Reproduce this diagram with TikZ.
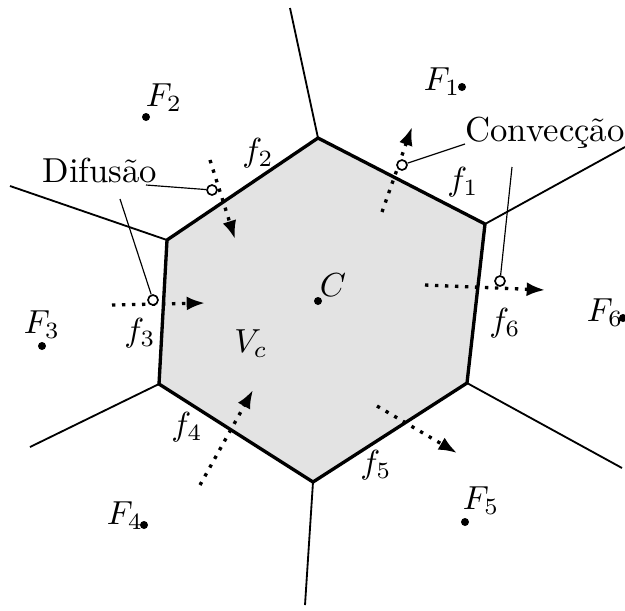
\documentclass[tikz,border=0pt]{standalone}
\usetikzlibrary{arrows.meta}
\begin{document}
\begin{tikzpicture}[x=0.3pt,y=-0.3pt,
  every node/.style={font=\fontsize{10.4}{12.5}\selectfont},
  face/.style={line width=1pt},
  ray/.style={line width=0.55pt},
  flux/.style={line width=1pt,dotted,-{Latex[length=5.5pt,width=4.2pt]}},
  leader/.style={line width=0.35pt},
  pt/.style={circle,fill=black,inner sep=0pt,minimum size=2.4pt},
  probe/.style={circle,draw=black,fill=white,line width=0.5pt,inner sep=0pt,minimum size=3pt},
  lbl/.style={inner sep=0pt}]
\useasboundingbox (0,0) rectangle (625,610);
% hexagon vertices
\coordinate (v1) at (318,138);
\coordinate (v2) at (485,224);
\coordinate (v3) at (467,383);
\coordinate (v4) at (313,482);
\coordinate (v5) at (159,384);
\coordinate (v6) at (167,240);
% ray ends
\coordinate (r1) at (290,8);
\coordinate (r2) at (625,147);
\coordinate (r3) at (622,468);
\coordinate (r4) at (305,605);
\coordinate (r5) at (30,447);
\coordinate (r6) at (10,186);
\fill[gray!22] (v1)--(v2)--(v3)--(v4)--(v5)--(v6)--cycle;
\draw[ray] (v1)--(r1) (v2)--(r2) (v3)--(r3) (v4)--(r4) (v5)--(r5) (v6)--(r6);
\draw[face,line join=miter] (v1)--(v2)--(v3)--(v4)--(v5)--(v6)--cycle;
% points
\node[pt] (F1) at (462,87) {};
\node[lbl] (F1l) at (442,82) {$F_1$};
\node[pt] (F2) at (146,117) {};
\node[lbl] (F2l) at (164,98) {$F_2$};
\node[pt] (F3) at (42,346) {};
\node[lbl] (F3l) at (42,325) {$F_3$};
\node[pt] (F4) at (144,525) {};
\node[lbl] (F4l) at (125,516) {$F_4$};
\node[pt] (F5) at (465,522) {};
\node[lbl] (F5l) at (481,501) {$F_5$};
\node[pt] (F6) at (623,318) {};
\node[lbl] (F6l) at (605,313) {$F_6$};
\node[pt] (C) at (318,301) {};
\node[lbl] (Cl) at (333,285) {$C$};
\node (Vc) at (251,344) {$V_c$};
% face labels
\node (f1) at (463,182) {$f_1$};
\node (f2) at (258,153) {$f_2$};
\node (f3) at (140,333) {$f_3$};
\node (f4) at (187,427) {$f_4$};
\node (f5) at (376,465) {$f_5$};
\node (f6) at (505,323) {$f_6$};
% flux arrows
\coordinate (a1s) at (382,212); \coordinate (a1e) at (412,127);
\coordinate (a2s) at (210,160); \coordinate (a2e) at (235,239);
\coordinate (a3s) at (112,305); \coordinate (a3e) at (205,303);
\coordinate (a4s) at (200,485); \coordinate (a4e) at (253,390);
\coordinate (a5s) at (377,406); \coordinate (a5e) at (457,453);
\coordinate (a6s) at (425,285); \coordinate (a6e) at (545,290);
\draw[flux] (a1s)--(a1e);
\draw[flux] (a2s)--(a2e);
\draw[flux] (a3s)--(a3e);
\draw[flux] (a4s)--(a4e);
\draw[flux] (a5s)--(a5e);
\draw[flux] (a6s)--(a6e);
% labels
\node (conv) at (545,133) {Convecção};
\node (dif) at (100,170) {Difusão};
\coordinate (c1l) at (465,144);
\coordinate (c2l) at (512,167);
\coordinate (d1l) at (146,185);
\coordinate (d2l) at (120,199);
\node[probe] (p1) at (402,165) {};
\node[probe] (p6) at (500,281) {};
\node[probe] (p2) at (212,190) {};
\node[probe] (p3) at (153,300) {};
\draw[leader] (p1)--(c1l);
\draw[leader] (p6)--(c2l);
\draw[leader] (p2)--(d1l);
\draw[leader] (p3)--(d2l);
\end{tikzpicture}
\end{document}
